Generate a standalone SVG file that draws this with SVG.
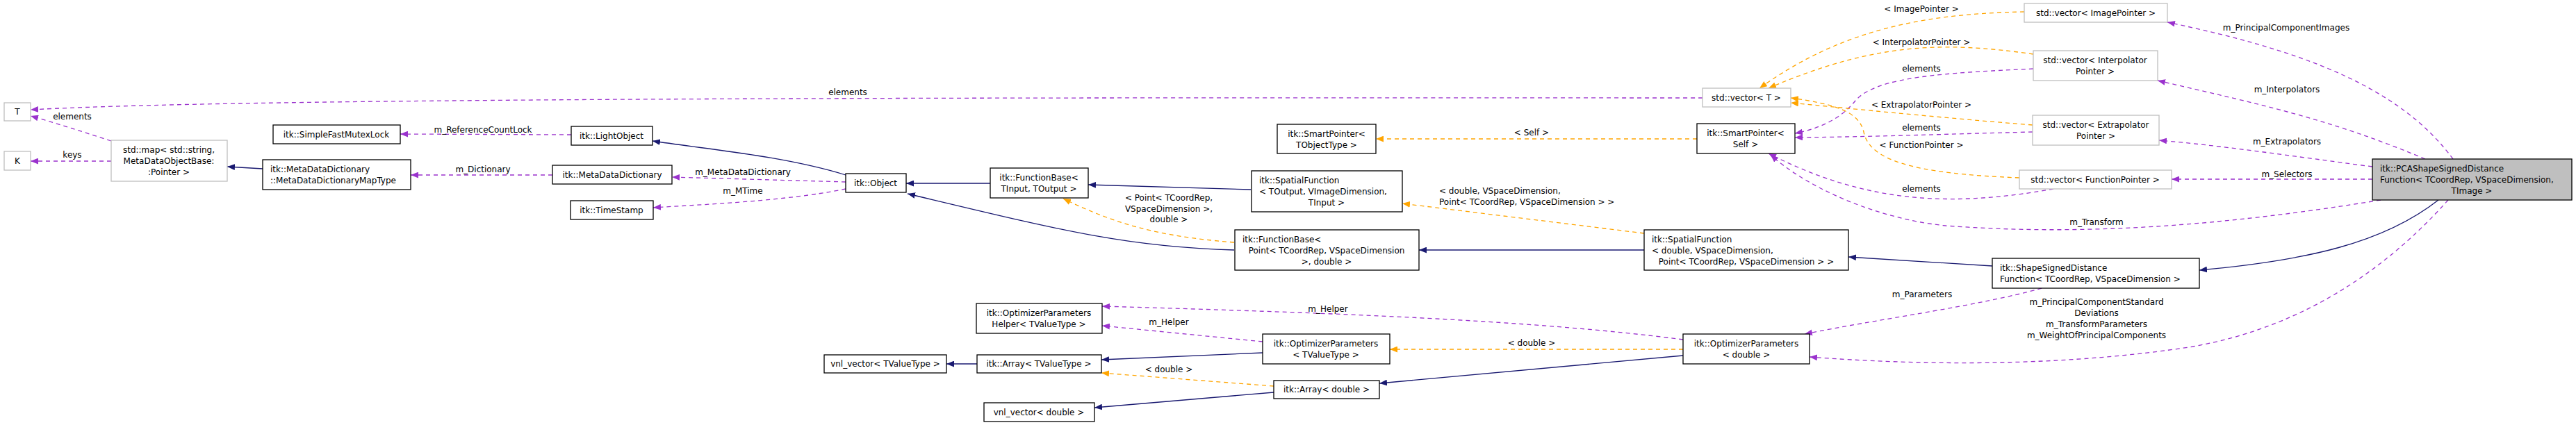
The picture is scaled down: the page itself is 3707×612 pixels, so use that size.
<svg xmlns="http://www.w3.org/2000/svg" width="3707" height="612" viewBox="0 0 3707 612">
<style>
text{font-family:"DejaVu Sans",sans-serif;font-size:12px;fill:#000}
.c{text-anchor:middle}
.n rect{fill:#fff;stroke:#000;stroke-width:1.3}
.g rect{fill:#fff;stroke:#bfbfbf;stroke-width:1.3}
.main rect{fill:#bfbfbf;stroke:#000;stroke-width:1.3}
.inh{fill:none;stroke:#191970;stroke-width:1.3;marker-end:url(#ai)}
.use{fill:none;stroke:#9a32cd;stroke-width:1.3;stroke-dasharray:6,5;marker-end:url(#au)}
.tpl{fill:none;stroke:orange;stroke-width:1.3;stroke-dasharray:6,5;marker-end:url(#at)}
</style>
<defs>
<marker id="ai" viewBox="0 0 10 8" refX="10" refY="4" markerWidth="11" markerHeight="9" markerUnits="userSpaceOnUse" orient="auto"><path d="M0,0L10,4L0,8z" fill="#191970"/></marker>
<marker id="au" viewBox="0 0 10 8" refX="10" refY="4" markerWidth="11" markerHeight="9" markerUnits="userSpaceOnUse" orient="auto"><path d="M0,0L10,4L0,8z" fill="#9a32cd"/></marker>
<marker id="at" viewBox="0 0 10 8" refX="10" refY="4" markerWidth="11" markerHeight="9" markerUnits="userSpaceOnUse" orient="auto"><path d="M0,0L10,4L0,8z" fill="orange"/></marker>
</defs>
<rect width="3707" height="612" fill="#fff"/>
<g id="connectors">
<path class="use" d="M2450,141 C1800,141 400,138 44,158"/>
<text class="c" x="1220" y="137">elements</text>
<path class="use" d="M160,203 C120,190 80,177 44,167"/>
<text class="c" x="104" y="172">elements</text>
<path class="use" d="M160,232 L44,232"/>
<text class="c" x="104" y="227">keys</text>
<path class="inh" d="M378,243 L327,240"/>
<path class="use" d="M822,194 L576,193"/>
<text class="c" x="695" y="191">m_ReferenceCountLock</text>
<path class="use" d="M795,252 L591,252"/>
<text class="c" x="695" y="248">m_Dictionary</text>
<path class="inh" d="M1217,252 C1130,225 1020,215 939,203"/>
<path class="use" d="M1217,262 L967,255"/>
<text class="c" x="1069" y="252">m_MetaDataDictionary</text>
<path class="use" d="M1217,272 C1130,290 1000,295 940,299"/>
<text class="c" x="1069" y="279">m_MTime</text>
<path class="inh" d="M1425,264 L1304,264"/>
<path class="inh" d="M1776,360 C1620,356 1520,330 1306,279"/>
<path class="tpl" d="M1776,349 C1660,340 1600,320 1530,286"/>
<text class="c" x="1682" y="289">&lt; Point&lt; TCoordRep,</text>
<text class="c" x="1682" y="305">VSpaceDimension &gt;,</text>
<text class="c" x="1682" y="320">double &gt;</text>
<path class="inh" d="M1800,273 L1566,266"/>
<path class="inh" d="M2366,360 L2042,360"/>
<path class="tpl" d="M2366,336 L2018,293"/>
<text x="2071" y="279">&lt; double, VSpaceDimension,</text>
<text x="2071" y="295">Point&lt; TCoordRep, VSpaceDimension &gt; &gt;</text>
<path class="tpl" d="M2442,200 L1980,200"/>
<text class="c" x="2204" y="195">&lt; Self &gt;</text>
<path class="tpl" d="M2913,17 C2750,20 2640,50 2532,127"/>
<text class="c" x="2765" y="17">&lt; ImagePointer &gt;</text>
<path class="tpl" d="M2926,78 C2800,60 2700,60 2545,127"/>
<text class="c" x="2765" y="65">&lt; InterpolatorPointer &gt;</text>
<path class="use" d="M2926,99 C2800,105 2700,110 2670,145 C2650,170 2620,185 2583,192"/>
<text class="c" x="2765" y="103">elements</text>
<path class="tpl" d="M2925,180 C2800,170 2700,160 2577,148"/>
<text class="c" x="2765" y="155">&lt; ExtrapolatorPointer &gt;</text>
<path class="use" d="M2925,190 C2800,193 2700,197 2583,198"/>
<text class="c" x="2765" y="188">elements</text>
<path class="tpl" d="M2906,256 C2750,250 2690,230 2682,190 C2675,160 2640,150 2577,141"/>
<text class="c" x="2765" y="213">&lt; FunctionPointer &gt;</text>
<path class="use" d="M2955,272 C2800,300 2680,290 2545,221"/>
<text class="c" x="2765" y="276">elements</text>
<path class="use" d="M3426,288 C3200,325 3000,340 2800,325 C2700,315 2600,270 2548,223"/>
<text class="c" x="3017" y="324">m_Transform</text>
<path class="use" d="M3530,229 C3450,120 3300,70 3119,32"/>
<text class="c" x="3290" y="44">m_PrincipalComponentImages</text>
<path class="use" d="M3490,229 C3350,170 3250,150 3105,116"/>
<text class="c" x="3291" y="133">m_Interpolators</text>
<path class="use" d="M3414,240 C3300,225 3200,210 3107,202"/>
<text class="c" x="3291" y="208">m_Extrapolators</text>
<path class="use" d="M3414,258 L3125,258"/>
<text class="c" x="3291" y="255">m_Selectors</text>
<path class="inh" d="M3509,288 C3430,350 3320,375 3165,389"/>
<path class="use" d="M3523,288 C3450,370 3330,470 3150,500 C2950,530 2750,525 2604,514"/>
<text class="c" x="3017" y="439">m_PrincipalComponentStandard</text>
<text class="c" x="3017" y="455">Deviations</text>
<text class="c" x="3017" y="471">m_TransformParameters</text>
<text class="c" x="3017" y="487">m_WeightOfPrincipalComponents</text>
<path class="use" d="M2938,415 C2850,440 2700,460 2597,481"/>
<text class="c" x="2766" y="428">m_Parameters</text>
<path class="inh" d="M2867,383 L2660,370"/>
<path class="tpl" d="M2422,503 L2000,503"/>
<text class="c" x="2204" y="498">&lt; double &gt;</text>
<path class="use" d="M2422,489 C2200,460 1900,450 1586,441"/>
<text class="c" x="1911" y="449">m_Helper</text>
<path class="inh" d="M2422,512 L1985,552"/>
<path class="use" d="M1817,492 L1586,469"/>
<text class="c" x="1682" y="468">m_Helper</text>
<path class="inh" d="M1817,508 L1585,518"/>
<path class="tpl" d="M1833,556 L1585,537"/>
<text class="c" x="1682" y="536">&lt; double &gt;</text>
<path class="inh" d="M1833,565 L1575,587"/>
<path class="inh" d="M1406,524 L1362,524"/>
</g>
<g id="T" class="g"><rect x="6" y="148" width="38" height="26"/><text class="c" x="25" y="165">T</text></g>
<g id="K" class="g"><rect x="6" y="218" width="38" height="27"/><text class="c" x="25" y="236">K</text></g>
<g id="map" class="g"><rect x="160" y="202" width="167" height="59"/><text class="c" x="243" y="220">std::map&lt; std::string,</text><text class="c" x="243" y="236">MetaDataObjectBase:</text><text class="c" x="243" y="252">:Pointer &gt;</text></g>
<g id="SimpleFastMutexLock" class="n"><rect x="393" y="180" width="183" height="27"/><text class="c" x="484" y="198">itk::SimpleFastMutexLock</text></g>
<g id="MapType" class="n"><rect x="378" y="230" width="213" height="43"/><text x="389" y="248">itk::MetaDataDictionary</text><text x="389" y="264">::MetaDataDictionaryMapType</text></g>
<g id="LightObject" class="n"><rect x="822" y="182" width="117" height="27"/><text class="c" x="880" y="200">itk::LightObject</text></g>
<g id="MetaDataDictionary" class="n"><rect x="795" y="238" width="172" height="27"/><text class="c" x="881" y="256">itk::MetaDataDictionary</text></g>
<g id="TimeStamp" class="n"><rect x="821" y="289" width="119" height="27"/><text class="c" x="880" y="307">itk::TimeStamp</text></g>
<g id="Object" class="n"><rect x="1217" y="250" width="87" height="27"/><text class="c" x="1260" y="268">itk::Object</text></g>
<g id="FunctionBaseTI" class="n"><rect x="1425" y="242" width="141" height="43"/><text class="c" x="1495" y="260">itk::FunctionBase&lt;</text><text class="c" x="1495" y="276">TInput, TOutput &gt;</text></g>
<g id="OptHelper" class="n"><rect x="1405" y="437" width="181" height="43"/><text class="c" x="1495" y="455">itk::OptimizerParameters</text><text class="c" x="1495" y="471">Helper&lt; TValueType &gt;</text></g>
<g id="vnlT" class="n"><rect x="1186" y="511" width="176" height="26"/><text class="c" x="1274" y="528">vnl_vector&lt; TValueType &gt;</text></g>
<g id="ArrayT" class="n"><rect x="1406" y="511" width="179" height="26"/><text class="c" x="1495" y="528">itk::Array&lt; TValueType &gt;</text></g>
<g id="vnlD" class="n"><rect x="1416" y="580" width="159" height="27"/><text class="c" x="1495" y="598">vnl_vector&lt; double &gt;</text></g>
<g id="SmartPointerT" class="n"><rect x="1838" y="179" width="142" height="42"/><text class="c" x="1909" y="197">itk::SmartPointer&lt;</text><text class="c" x="1909" y="213">TObjectType &gt;</text></g>
<g id="SpatialFunctionT" class="n"><rect x="1801" y="246" width="217" height="59"/><text x="1812" y="264">itk::SpatialFunction</text><text x="1812" y="280">&lt; TOutput, VImageDimension,</text><text class="c" x="1909" y="296">TInput &gt;</text></g>
<g id="FunctionBaseP" class="n"><rect x="1777" y="331" width="265" height="58"/><text x="1788" y="349">itk::FunctionBase&lt;</text><text class="c" x="1909" y="365">Point&lt; TCoordRep, VSpaceDimension</text><text class="c" x="1909" y="381">&gt;, double &gt;</text></g>
<g id="OptT" class="n"><rect x="1817" y="481" width="183" height="43"/><text class="c" x="1908" y="499">itk::OptimizerParameters</text><text class="c" x="1908" y="515">&lt; TValueType &gt;</text></g>
<g id="ArrayD" class="n"><rect x="1833" y="548" width="152" height="26"/><text class="c" x="1909" y="565">itk::Array&lt; double &gt;</text></g>
<g id="SmartPointerSelf" class="n"><rect x="2442" y="178" width="141" height="43"/><text class="c" x="2512" y="196">itk::SmartPointer&lt;</text><text class="c" x="2512" y="212">Self &gt;</text></g>
<g id="vectorT" class="g"><rect x="2450" y="127" width="127" height="27"/><text class="c" x="2513" y="145">std::vector&lt; T &gt;</text></g>
<g id="SpatialFunctionD" class="n"><rect x="2366" y="331" width="294" height="58"/><text x="2377" y="349">itk::SpatialFunction</text><text x="2377" y="365">&lt; double, VSpaceDimension,</text><text class="c" x="2513" y="381">Point&lt; TCoordRep, VSpaceDimension &gt; &gt;</text></g>
<g id="OptD" class="n"><rect x="2422" y="481" width="182" height="43"/><text class="c" x="2513" y="499">itk::OptimizerParameters</text><text class="c" x="2513" y="515">&lt; double &gt;</text></g>
<g id="vecImage" class="g"><rect x="2913" y="5" width="206" height="27"/><text class="c" x="3016" y="23">std::vector&lt; ImagePointer &gt;</text></g>
<g id="vecInterp" class="g"><rect x="2926" y="73" width="179" height="43"/><text class="c" x="3015" y="91">std::vector&lt; Interpolator</text><text class="c" x="3015" y="107">Pointer &gt;</text></g>
<g id="vecExtrap" class="g"><rect x="2925" y="166" width="182" height="43"/><text class="c" x="3016" y="184">std::vector&lt; Extrapolator</text><text class="c" x="3016" y="200">Pointer &gt;</text></g>
<g id="vecFunc" class="g"><rect x="2906" y="245" width="219" height="27"/><text class="c" x="3015" y="263">std::vector&lt; FunctionPointer &gt;</text></g>
<g id="SSD" class="n"><rect x="2867" y="372" width="298" height="43"/><text x="2878" y="390">itk::ShapeSignedDistance</text><text x="2878" y="406">Function&lt; TCoordRep, VSpaceDimension &gt;</text></g>
<g id="PCA" class="main"><rect x="3414" y="229" width="287" height="59"/><text x="3425" y="247">itk::PCAShapeSignedDistance</text><text x="3425" y="263">Function&lt; TCoordRep, VSpaceDimension,</text><text class="c" x="3557" y="279">TImage &gt;</text></g>
</svg>
